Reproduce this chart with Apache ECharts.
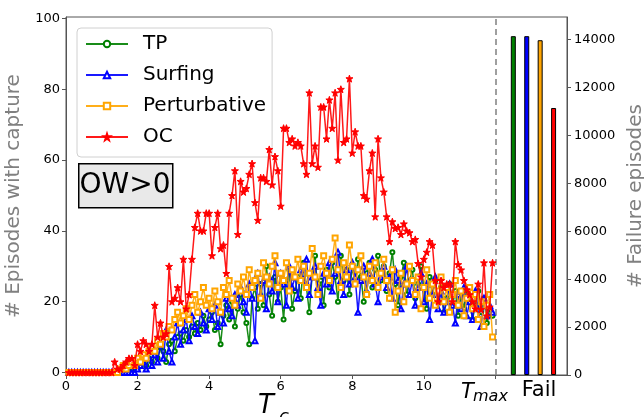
<!DOCTYPE html>
<html>
<head>
<meta charset="utf-8">
<script src="https://cdn.jsdelivr.net/npm/echarts@6/dist/echarts.min.js"></script>
<style>
html, body { margin: 0; padding: 0; background: #fff; }
#chart { width: 644px; height: 417px; }
</style>
</head>
<body>
<div id="chart"></div>
<script>
// T_c sampled every 0.08 from 0.08 up to 11.92
var tcStep = 0.08

var tp = [
  0,0,0,0,0,0,0,0,0,0,
  0,0,0,0,0,0,0,0,0,1,
  1,0,1,2,1,2,3,2,4,3,
  5,4,7,6,3,8,9,6,10,11,
  9,12,10,13,11,14,12,16,13,15,
  17,12,14,8,16,19,15,20,13,18,
  22,17,14,8,21,24,18,25,19,30,
  22,16,27,20,24,15,26,29,18,23,
  27,21,31,24,17,28,33,22,26,19,
  29,24,31,27,20,33,26,29,22,30,
  25,32,27,20,28,31,24,29,33,26,
  30,23,28,34,25,19,27,31,22,26,
  29,21,25,30,24,18,27,22,26,20,
  24,17,21,25,19,23,16,22,18,24,
  20,15,19,23,17,21,14,18,16
]
var surfing = [
  0,0,0,0,0,0,0,0,0,0,
  0,0,0,0,0,0,0,0,0,0,
  0,0,0,0,1,2,3,1,4,2,
  5,3,8,4,12,6,3,10,14,8,
  12,15,9,16,13,11,17,14,12,18,
  15,19,13,17,14,21,18,16,22,19,
  24,20,17,25,21,9,28,22,26,18,
  27,23,31,20,28,25,19,30,24,27,
  21,29,26,32,22,27,30,24,19,28,
  25,31,23,28,34,26,22,29,25,31,
  27,17,26,30,23,28,32,25,20,27,
  30,24,27,21,29,26,18,25,30,22,
  26,19,24,28,20,25,15,22,27,18,
  23,17,20,25,19,14,22,18,24,16,
  20,15,23,18,13,21,16,19,17
]
var perturbative = [
  0,0,0,0,0,0,0,0,0,0,
  0,0,0,0,0,0,0,0,1,2,
  1,2,3,2,4,3,5,4,6,7,
  6,9,8,11,10,13,12,15,17,14,
  16,18,15,19,22,17,20,24,19,21,
  18,23,20,17,24,22,26,21,19,25,
  23,27,22,29,24,26,28,21,31,27,
  25,30,33,24,28,26,31,23,29,27,
  32,26,30,24,28,35,27,22,30,33,
  28,26,32,38,29,24,31,27,36,30,
  25,29,33,27,22,30,26,31,24,28,
  32,26,21,29,17,23,28,20,25,30,
  26,22,27,18,24,29,21,25,19,23,
  27,20,24,17,22,26,19,23,16,21,
  24,18,22,15,20,13,19,22,10
]
var oc = [
  0,0,0,0,0,0,0,0,0,0,
  0,0,0,0,0,0,3,1,1,2,
  3,4,4,2,8,6,9,8,6,8,
  19,10,14,10,11,30,20,21,24,20,
  32,18,22,32,41,45,40,40,45,45,
  33,41,45,35,36,28,45,50,57,39,
  54,51,52,56,59,48,43,55,55,54,
  63,53,61,57,47,69,69,65,66,64,
  65,64,59,56,79,59,64,58,75,75,
  66,77,69,79,60,80,65,66,83,62,
  68,64,64,50,49,57,62,44,66,55,
  51,44,37,42.6,40.7,41,39,42,40,39.5,
  37,37.6,30.8,27,32,34,37,36,26,20,
  26,24,25,25,20,37,30.5,29,26,23.4,
  22,20,18,25,17.8,31,16,18.5,31
]

var names = ['TP', 'Surfing', 'Perturbative', 'OC']
var failPos = [12.5, 12.875, 13.25, 13.625]
var failCounts = [14150, 14150, 13980, 11150]
var colors = ['#008000', '#0000ff', '#ffa500', '#ff0000']

var starPath = 'path://M0,-10L2.35,-3.24L9.51,-3.09L3.8,1.24L5.88,8.09L0,4L-5.88,8.09L-3.8,1.24L-9.51,-3.09L-2.35,-3.24Z'
var symbols = ['emptyCircle', 'emptyTriangle', 'emptyRect', starPath]
var symbolSizes = [4, 5, 5, 7]

function pairs(vals) {
  return vals.map(function (v, i) { return [+(tcStep * (i + 1)).toFixed(2), v] })
}

var lineData = [tp, surfing, perturbative, oc]
var font = 'DejaVu Sans'

var series = []
lineData.forEach(function (vals, i) {
  var s = {
    name: names[i],
    type: 'line',
    yAxisIndex: 0,
    data: pairs(vals),
    symbol: symbols[i],
    symbolSize: symbolSizes[i],
    showAllSymbol: true,
    lineStyle: { color: colors[i], width: 1.5, opacity: 0.9 },
    itemStyle: { color: colors[i], borderColor: colors[i], borderWidth: 1 },
    z: 2 + i
  }
  if (i === 0) {
    s.markLine = {
      silent: true,
      symbol: 'none',
      label: { show: false },
      lineStyle: { color: '#808080', type: [6, 4], width: 1.5 },
      data: [{ xAxis: 12 }]
    }
  }
  series.push(s)
})
failCounts.forEach(function (c, i) {
  series.push({
    name: names[i] + ' fail',
    type: 'bar',
    xAxisIndex: 0,
    yAxisIndex: 1,
    barWidth: 5,
    barGap: '-100%',
    data: [[failPos[i], c]],
    itemStyle: { color: colors[i], borderColor: '#000', borderWidth: 1 }
  })
})

var chart = echarts.init(document.getElementById('chart'))
var option = {
  animation: false,
  backgroundColor: '#fff',
  textStyle: { fontFamily: font },
  grid: {
    left: 66, right: 77, top: 17, bottom: 42,
    containLabel: false, outerBoundsMode: 'none',
    show: true, borderColor: '#555', borderWidth: 1
  },
  legend: {
    data: names,
    orient: 'vertical',
    left: 77,
    top: 28,
    padding: [6, 6, 10, 8],
    itemWidth: 42,
    itemHeight: 8,
    itemGap: 11,
    backgroundColor: 'rgba(255,255,255,0.8)',
    borderColor: '#d0d0d0',
    borderWidth: 1,
    borderRadius: 4,
    textStyle: { fontFamily: font, fontSize: 20, color: '#000', lineHeight: 20, padding: [0, 0, 0, 10] }
  },
  xAxis: {
    type: 'value',
    min: 0,
    max: 14,
    axisLine: { onZero: false, lineStyle: { color: '#555', width: 1 } },
    axisTick: { customValues: [0, 2, 4, 6, 8, 10, 12], length: 4, lineStyle: { color: '#555' } },
    axisLabel: { customValues: [0, 2, 4, 6, 8, 10], fontSize: 13, color: '#000', margin: 5 },
    splitLine: { show: false }
  },
  yAxis: [{
    type: 'value',
    min: -0.7,
    max: 100.4,
    position: 'left',
    name: '# Episodes with capture',
    nameLocation: 'middle',
    nameGap: 41,
    nameTextStyle: { color: '#808080', fontSize: 20, fontFamily: font },
    axisLine: { show: true, lineStyle: { color: '#555', width: 1 } },
    axisTick: { show: true, customValues: [0, 20, 40, 60, 80, 100], length: 4, lineStyle: { color: '#555' } },
    axisLabel: { customValues: [0, 20, 40, 60, 80, 100], fontSize: 13, color: '#000', margin: 6 },
    splitLine: { show: false }
  }, {
    type: 'value',
    min: 0,
    max: 14950,
    position: 'right',
    name: '# Failure episodes',
    nameLocation: 'middle',
    nameGap: 51,
    nameRotate: 90,
    nameTextStyle: { color: '#808080', fontSize: 20, fontFamily: font },
    axisLine: { show: true, lineStyle: { color: '#555', width: 1 } },
    axisTick: { show: true, customValues: [0, 2000, 4000, 6000, 8000, 10000, 12000, 14000], length: 4, lineStyle: { color: '#555' } },
    axisLabel: {
      customValues: [0, 2000, 4000, 6000, 8000, 10000, 12000, 14000],
      formatter: function (v) { return String(v) },
      fontSize: 13, color: '#000', margin: 7
    },
    splitLine: { show: false }
  }],
  graphic: [
    { type: 'rect', left: 78, top: 163, shape: { width: 94, height: 44 }, style: { fill: '#e9e9e9', stroke: '#000', lineWidth: 1.5 }, z: 100 },
    { type: 'text', x: 125, y: 186, style: { text: 'OW>0', fontSize: 28, fontFamily: font, fill: '#000', align: 'center', verticalAlign: 'middle' }, z: 101 },
    { type: 'text', left: 461, top: 382, style: { text: 'T', fontSize: 21, fontStyle: 'italic', fontFamily: font, fill: '#000' } },
    { type: 'text', left: 473, top: 389, style: { text: 'max', fontSize: 16, fontStyle: 'italic', fontFamily: font, fill: '#000' } },
    { type: 'text', x: 539, y: 380, style: { text: 'Fail', fontSize: 21, fontFamily: font, fill: '#000', align: 'center' } },
    { type: 'text', left: 258, top: 393, style: { text: 'T', fontSize: 26, fontStyle: 'italic', fontFamily: font, fill: '#000' } },
    { type: 'text', left: 279, top: 408, style: { text: 'c', fontSize: 18, fontStyle: 'italic', fontFamily: font, fill: '#000' } }
  ],
  series: series
}
chart.setOption(option)
</script>
</body>
</html>
